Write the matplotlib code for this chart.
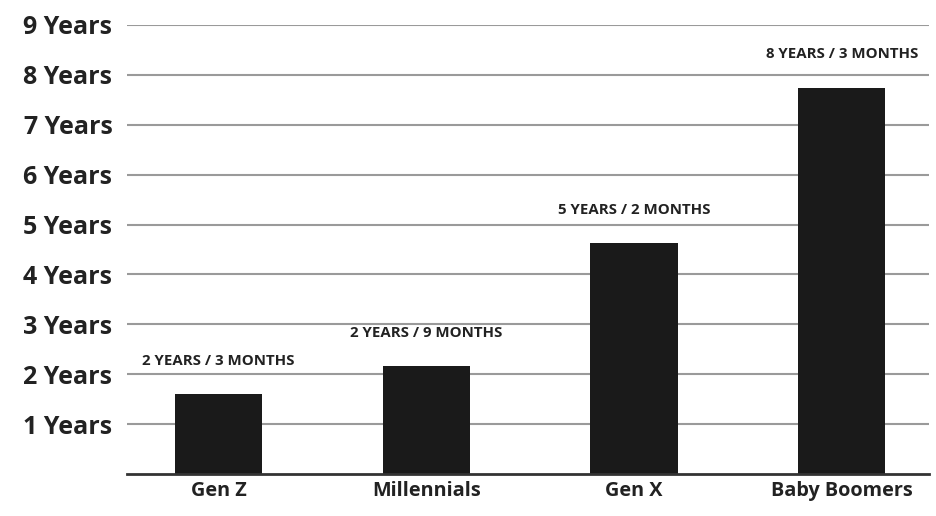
import matplotlib
matplotlib.use("Agg")
import matplotlib.pyplot as plt

categories = ["Gen Z", "Millennials", "Gen X", "Baby Boomers"]
bar_values = [1.60, 2.16, 4.63, 7.74]
bar_labels = ["2 YEARS / 3 MONTHS", "2 YEARS / 9 MONTHS", "5 YEARS / 2 MONTHS", "8 YEARS / 3 MONTHS"]
y_ticks = [1, 2, 3, 4, 5, 6, 7, 8, 9]
y_tick_labels = [f"{v} Years" for v in y_ticks]

plt.rcParams['font.family'] = ['Open Sans', 'DejaVu Sans']

fig = plt.figure(figsize=(9.36, 5.16), dpi=100)
ax = fig.add_axes([127/936, 42/516, (929-127)/936, (474-25)/516])

x = list(range(len(categories)))
ax.bar(x, bar_values, width=0.42, color="#1a1a1a", zorder=3)

for xi, v, lab in zip(x, bar_values, bar_labels):
    ax.annotate(lab, (xi, v), xytext=(0, 19), textcoords="offset points",
                ha="center", va="bottom", fontsize=10.8, fontweight="bold",
                color="#222222")

ax.set_xlim(-0.44, 3.42)
ax.set_ylim(0, 9)
ax.set_yticks(y_ticks)
ax.set_yticklabels(y_tick_labels, fontsize=18, fontweight="bold", color="#222222")
ax.set_xticks(x)
ax.set_xticklabels(categories, fontsize=14.3, fontweight="bold", color="#222222")
ax.tick_params(axis="y", length=0, pad=10.5)
ax.tick_params(axis="x", length=0, pad=5)
ax.yaxis.grid(True, color="#9a9a9a", linewidth=1.5, zorder=0)
for s in ["top", "right", "left"]:
    ax.spines[s].set_visible(False)
ax.spines["bottom"].set_color("#333333")
ax.spines["bottom"].set_linewidth(2)
ax.spines["bottom"].set_zorder(4)

fig.savefig("out.png", dpi=100)
